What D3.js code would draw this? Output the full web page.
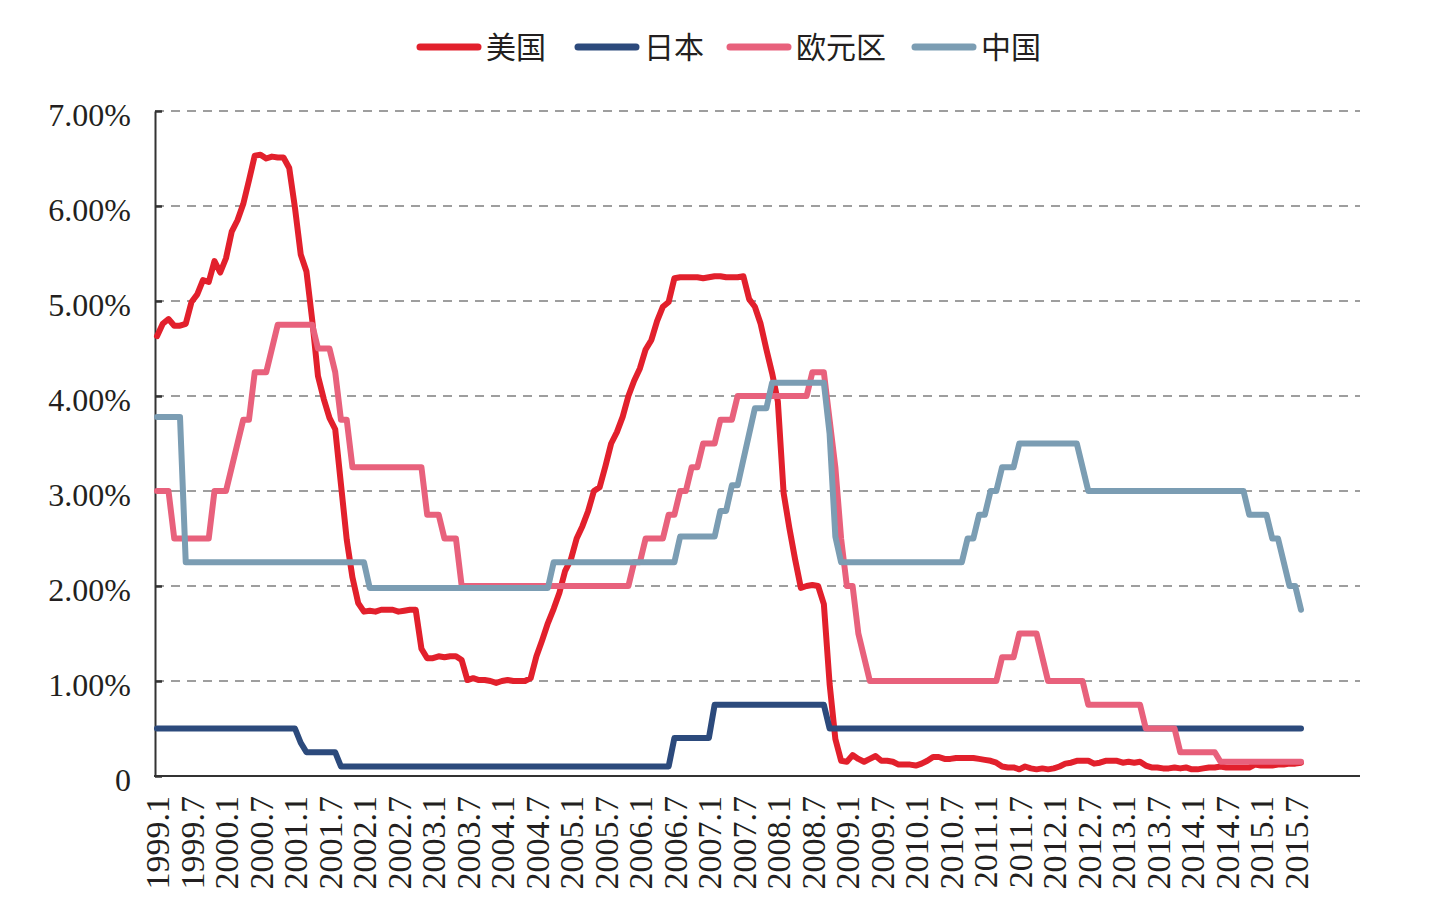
<!DOCTYPE html>
<html>
<head>
<meta charset="utf-8">
<script src="https://cdn.jsdelivr.net/npm/d3@7"></script>
<style>
body { margin: 0; background: #fff; }
svg text { font-family: "Liberation Serif", "Times New Roman", serif; fill: #231f20; }
.legend text { font-family: "Noto Sans CJK SC", sans-serif; }
</style>
</head>
<body>
<svg id="chart" width="1442" height="920"></svg>
<script>

// monthly, 1999.1 .. 2015.8 (one row per year)
var usRate = [
  4.63, 4.76, 4.81, 4.74, 4.74, 4.76, 4.99, 5.07, 5.22, 5.20, 5.42, 5.30,
  5.45, 5.73, 5.85, 6.02, 6.27, 6.53, 6.54, 6.50, 6.52, 6.51, 6.51, 6.40,
  5.98, 5.49, 5.31, 4.80, 4.21, 3.97, 3.77, 3.65, 3.07, 2.49, 2.09, 1.82,
  1.73, 1.74, 1.73, 1.75, 1.75, 1.75, 1.73, 1.74, 1.75, 1.75, 1.34, 1.24,
  1.24, 1.26, 1.25, 1.26, 1.26, 1.22, 1.01, 1.03, 1.01, 1.01, 1.00, 0.98,
  1.00, 1.01, 1.00, 1.00, 1.00, 1.03, 1.26, 1.43, 1.61, 1.76, 1.93, 2.16,
  2.28, 2.50, 2.63, 2.79, 3.00, 3.04, 3.26, 3.50, 3.62, 3.78, 4.00, 4.16,
  4.29, 4.49, 4.59, 4.79, 4.94, 4.99, 5.24, 5.25, 5.25, 5.25, 5.25, 5.24,
  5.25, 5.26, 5.26, 5.25, 5.25, 5.25, 5.26, 5.02, 4.94, 4.76, 4.49, 4.24,
  3.94, 2.98, 2.61, 2.28, 1.98, 2.00, 2.01, 2.00, 1.81, 0.97, 0.39, 0.16,
  0.15, 0.22, 0.18, 0.15, 0.18, 0.21, 0.16, 0.16, 0.15, 0.12, 0.12, 0.12,
  0.11, 0.13, 0.16, 0.20, 0.20, 0.18, 0.18, 0.19, 0.19, 0.19, 0.19, 0.18,
  0.17, 0.16, 0.14, 0.10, 0.09, 0.09, 0.07, 0.10, 0.08, 0.07, 0.08, 0.07,
  0.08, 0.10, 0.13, 0.14, 0.16, 0.16, 0.16, 0.13, 0.14, 0.16, 0.16, 0.16,
  0.14, 0.15, 0.14, 0.15, 0.11, 0.09, 0.09, 0.08, 0.08, 0.09, 0.08, 0.09,
  0.07, 0.07, 0.08, 0.09, 0.09, 0.10, 0.09, 0.09, 0.09, 0.09, 0.09, 0.12,
  0.11, 0.11, 0.11, 0.12, 0.12, 0.13, 0.13, 0.14
];

var japanRate = [
  0.5, 0.5, 0.5, 0.5, 0.5, 0.5, 0.5, 0.5, 0.5, 0.5, 0.5, 0.5,
  0.5, 0.5, 0.5, 0.5, 0.5, 0.5, 0.5, 0.5, 0.5, 0.5, 0.5, 0.5,
  0.5, 0.35, 0.25, 0.25, 0.25, 0.25, 0.25, 0.25, 0.1, 0.1, 0.1, 0.1,
  0.1, 0.1, 0.1, 0.1, 0.1, 0.1, 0.1, 0.1, 0.1, 0.1, 0.1, 0.1,
  0.1, 0.1, 0.1, 0.1, 0.1, 0.1, 0.1, 0.1, 0.1, 0.1, 0.1, 0.1,
  0.1, 0.1, 0.1, 0.1, 0.1, 0.1, 0.1, 0.1, 0.1, 0.1, 0.1, 0.1,
  0.1, 0.1, 0.1, 0.1, 0.1, 0.1, 0.1, 0.1, 0.1, 0.1, 0.1, 0.1,
  0.1, 0.1, 0.1, 0.1, 0.1, 0.1, 0.4, 0.4, 0.4, 0.4, 0.4, 0.4,
  0.4, 0.75, 0.75, 0.75, 0.75, 0.75, 0.75, 0.75, 0.75, 0.75, 0.75, 0.75,
  0.75, 0.75, 0.75, 0.75, 0.75, 0.75, 0.75, 0.75, 0.75, 0.5, 0.5, 0.5,
  0.5, 0.5, 0.5, 0.5, 0.5, 0.5, 0.5, 0.5, 0.5, 0.5, 0.5, 0.5,
  0.5, 0.5, 0.5, 0.5, 0.5, 0.5, 0.5, 0.5, 0.5, 0.5, 0.5, 0.5,
  0.5, 0.5, 0.5, 0.5, 0.5, 0.5, 0.5, 0.5, 0.5, 0.5, 0.5, 0.5,
  0.5, 0.5, 0.5, 0.5, 0.5, 0.5, 0.5, 0.5, 0.5, 0.5, 0.5, 0.5,
  0.5, 0.5, 0.5, 0.5, 0.5, 0.5, 0.5, 0.5, 0.5, 0.5, 0.5, 0.5,
  0.5, 0.5, 0.5, 0.5, 0.5, 0.5, 0.5, 0.5, 0.5, 0.5, 0.5, 0.5,
  0.5, 0.5, 0.5, 0.5, 0.5, 0.5, 0.5, 0.5
];

var euroRate = [
  3.00, 3.00, 3.00, 2.50, 2.50, 2.50, 2.50, 2.50, 2.50, 2.50, 3.00, 3.00,
  3.00, 3.25, 3.50, 3.75, 3.75, 4.25, 4.25, 4.25, 4.50, 4.75, 4.75, 4.75,
  4.75, 4.75, 4.75, 4.75, 4.50, 4.50, 4.50, 4.25, 3.75, 3.75, 3.25, 3.25,
  3.25, 3.25, 3.25, 3.25, 3.25, 3.25, 3.25, 3.25, 3.25, 3.25, 3.25, 2.75,
  2.75, 2.75, 2.50, 2.50, 2.50, 2.00, 2.00, 2.00, 2.00, 2.00, 2.00, 2.00,
  2.00, 2.00, 2.00, 2.00, 2.00, 2.00, 2.00, 2.00, 2.00, 2.00, 2.00, 2.00,
  2.00, 2.00, 2.00, 2.00, 2.00, 2.00, 2.00, 2.00, 2.00, 2.00, 2.00, 2.25,
  2.25, 2.50, 2.50, 2.50, 2.50, 2.75, 2.75, 3.00, 3.00, 3.25, 3.25, 3.50,
  3.50, 3.50, 3.75, 3.75, 3.75, 4.00, 4.00, 4.00, 4.00, 4.00, 4.00, 4.00,
  4.00, 4.00, 4.00, 4.00, 4.00, 4.00, 4.25, 4.25, 4.25, 3.75, 3.25, 2.50,
  2.00, 2.00, 1.50, 1.25, 1.00, 1.00, 1.00, 1.00, 1.00, 1.00, 1.00, 1.00,
  1.00, 1.00, 1.00, 1.00, 1.00, 1.00, 1.00, 1.00, 1.00, 1.00, 1.00, 1.00,
  1.00, 1.00, 1.00, 1.25, 1.25, 1.25, 1.50, 1.50, 1.50, 1.50, 1.25, 1.00,
  1.00, 1.00, 1.00, 1.00, 1.00, 1.00, 0.75, 0.75, 0.75, 0.75, 0.75, 0.75,
  0.75, 0.75, 0.75, 0.75, 0.50, 0.50, 0.50, 0.50, 0.50, 0.50, 0.25, 0.25,
  0.25, 0.25, 0.25, 0.25, 0.25, 0.15, 0.15, 0.15, 0.15, 0.15, 0.15, 0.15,
  0.15, 0.15, 0.15, 0.15, 0.15, 0.15, 0.15, 0.15
];

var chinaRate = [
  3.78, 3.78, 3.78, 3.78, 3.78, 2.25, 2.25, 2.25, 2.25, 2.25, 2.25, 2.25,
  2.25, 2.25, 2.25, 2.25, 2.25, 2.25, 2.25, 2.25, 2.25, 2.25, 2.25, 2.25,
  2.25, 2.25, 2.25, 2.25, 2.25, 2.25, 2.25, 2.25, 2.25, 2.25, 2.25, 2.25,
  2.25, 1.98, 1.98, 1.98, 1.98, 1.98, 1.98, 1.98, 1.98, 1.98, 1.98, 1.98,
  1.98, 1.98, 1.98, 1.98, 1.98, 1.98, 1.98, 1.98, 1.98, 1.98, 1.98, 1.98,
  1.98, 1.98, 1.98, 1.98, 1.98, 1.98, 1.98, 1.98, 1.98, 2.25, 2.25, 2.25,
  2.25, 2.25, 2.25, 2.25, 2.25, 2.25, 2.25, 2.25, 2.25, 2.25, 2.25, 2.25,
  2.25, 2.25, 2.25, 2.25, 2.25, 2.25, 2.25, 2.52, 2.52, 2.52, 2.52, 2.52,
  2.52, 2.52, 2.79, 2.79, 3.06, 3.06, 3.33, 3.60, 3.87, 3.87, 3.87, 4.14,
  4.14, 4.14, 4.14, 4.14, 4.14, 4.14, 4.14, 4.14, 4.14, 3.60, 2.52, 2.25,
  2.25, 2.25, 2.25, 2.25, 2.25, 2.25, 2.25, 2.25, 2.25, 2.25, 2.25, 2.25,
  2.25, 2.25, 2.25, 2.25, 2.25, 2.25, 2.25, 2.25, 2.25, 2.50, 2.50, 2.75,
  2.75, 3.00, 3.00, 3.25, 3.25, 3.25, 3.50, 3.50, 3.50, 3.50, 3.50, 3.50,
  3.50, 3.50, 3.50, 3.50, 3.50, 3.25, 3.00, 3.00, 3.00, 3.00, 3.00, 3.00,
  3.00, 3.00, 3.00, 3.00, 3.00, 3.00, 3.00, 3.00, 3.00, 3.00, 3.00, 3.00,
  3.00, 3.00, 3.00, 3.00, 3.00, 3.00, 3.00, 3.00, 3.00, 3.00, 2.75, 2.75,
  2.75, 2.75, 2.50, 2.50, 2.25, 2.00, 2.00, 1.75
];

var tickLabels = [
  "1999.1", "1999.7", "2000.1", "2000.7", "2001.1", "2001.7", "2002.1", "2002.7",
  "2003.1", "2003.7", "2004.1", "2004.7", "2005.1", "2005.7", "2006.1", "2006.7",
  "2007.1", "2007.7", "2008.1", "2008.7", "2009.1", "2009.7", "2010.1", "2010.7",
  "2011.1", "2011.7", "2012.1", "2012.7", "2013.1", "2013.7", "2014.1", "2014.7",
  "2015.1", "2015.7"
];
var yTicks = [0, 1, 2, 3, 4, 5, 6, 7];

var seriesNames = ["美国", "日本", "欧元区", "中国"];
var seriesColors = ["#e2202c", "#2c4a7c", "#e8617c", "#7b9db3"];
var seriesData = [usRate, japanRate, euroRate, chinaRate];

var svg = d3.select("#chart");
var plotLeft = 155, plotRight = 1360, plotTop = 111, plotBottom = 776;

var x = d3.scaleLinear().domain([0, 199]).range([157, 1301]);
var y = d3.scaleLinear().domain([0, 7]).range([plotBottom, plotTop]);

// dashed grid
svg.append("g").selectAll("line")
  .data(yTicks.filter(function(d) { return d > 0; }))
  .enter().append("line")
  .attr("x1", plotLeft).attr("x2", plotRight)
  .attr("y1", function(d) { return y(d); })
  .attr("y2", function(d) { return y(d); })
  .attr("stroke", "#7f7f7f")
  .attr("stroke-width", 1.3)
  .attr("stroke-dasharray", "9,7");

// y axis, ticks pointing in
var yAxis = d3.axisLeft(y).tickValues(yTicks).tickSizeInner(-7).tickSizeOuter(0).tickPadding(24)
  .tickFormat(function(d) { return d === 0 ? "0" : d.toFixed(2) + "%"; });
var yg = svg.append("g").attr("transform", "translate(" + plotLeft + ",0)").call(yAxis);
yg.select(".domain").attr("stroke", "#333").attr("stroke-width", 2);
yg.selectAll(".tick line").attr("stroke", "#333").attr("stroke-width", 2.5);
yg.selectAll("text").style("font-size", "32px").attr("dy", "0.45em").attr("fill", "#231f20");

// x axis labels
var xAxis = d3.axisBottom(x).tickValues(tickLabels.map(function(d, i) { return i * 6; }))
  .tickSize(0).tickFormat(function(d, i) { return tickLabels[i]; });
var xg = svg.append("g").attr("transform", "translate(0," + plotBottom + ")").call(xAxis);
xg.select(".domain").remove();
xg.selectAll("text")
  .attr("transform", "rotate(-90)")
  .attr("x", -20).attr("y", 0).attr("dy", "0.35em")
  .style("text-anchor", "end")
  .style("font-size", "34px");

svg.append("line")
  .attr("x1", plotLeft - 1).attr("x2", plotRight)
  .attr("y1", plotBottom).attr("y2", plotBottom)
  .attr("stroke", "#333").attr("stroke-width", 2);

// lines
var line = d3.line()
  .x(function(d, i) { return x(i); })
  .y(function(d) { return y(d); });

svg.append("g").selectAll("path")
  .data(seriesData)
  .enter().append("path")
  .attr("d", line)
  .attr("fill", "none")
  .attr("stroke", function(d, i) { return seriesColors[i]; })
  .attr("stroke-width", 6)
  .attr("stroke-linejoin", "round")
  .attr("stroke-linecap", "round");

// legend
var legendX = [486, 644, 796, 981];
var lg = svg.append("g").attr("class", "legend");
seriesNames.forEach(function(name, i) {
  lg.append("line")
    .attr("x1", legendX[i] - 66).attr("x2", legendX[i] - 8)
    .attr("y1", 47).attr("y2", 47)
    .attr("stroke", seriesColors[i])
    .attr("stroke-width", 7)
    .attr("stroke-linecap", "round");
  lg.append("text")
    .attr("x", legendX[i]).attr("y", 47).attr("dy", "0.36em")
    .style("font-size", "30px")
    .text(name);
});

</script>
</body>
</html>
